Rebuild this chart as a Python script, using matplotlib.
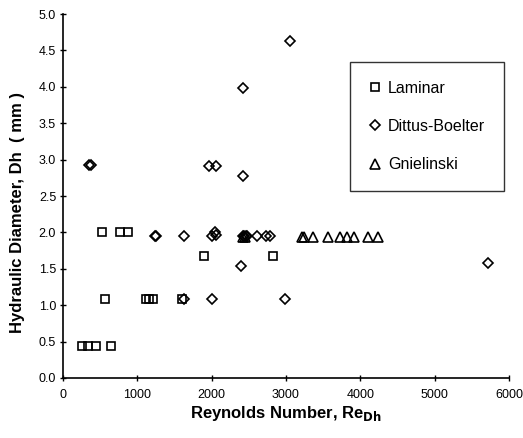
import matplotlib.pyplot as plt

plt.rcParams['font.family'] = ['Liberation Sans', 'DejaVu Sans']

# Laminar correlation points
laminar_re = [250, 340, 440, 640, 560, 1120, 1160, 1210, 1600, 530, 770, 880, 1900, 2820]
laminar_dh = [0.44, 0.44, 0.44, 0.44, 1.09, 1.09, 1.09, 1.09, 1.09, 2.01, 2.01, 2.01, 1.67, 1.67]

# Dittus-Boelter correlation points
dittus_re = [350, 370, 1970, 2060, 2420, 2420, 3050, 1240, 1250, 1630, 2010, 2040, 2060,
             2420, 2440, 2460, 2480, 2610, 2730, 2780, 2400, 1630, 2000, 2990, 5720]
dittus_dh = [2.92, 2.92, 2.91, 2.91, 3.98, 2.77, 4.63, 1.95, 1.95, 1.95, 1.95, 2.0, 1.97,
             1.95, 1.95, 1.95, 1.95, 1.95, 1.95, 1.95, 1.54, 1.09, 1.09, 1.09, 1.58]

# Gnielinski correlation points
gniel_re = [2420, 2450, 3220, 3240, 3370, 3570, 3730, 3820, 3910, 4100, 4240]
gniel_dh = [1.94, 1.94, 1.94, 1.94, 1.94, 1.94, 1.94, 1.94, 1.94, 1.94, 1.94]

fig = plt.figure(figsize=(5.23, 4.38), dpi=100)
ax = fig.add_axes([0.1205, 0.137, 0.8525, 0.831])

ms = 6
ax.plot(laminar_re, laminar_dh, 's', ms=ms, mfc='none', mec='black', mew=1.2, label='Laminar')
ax.plot(dittus_re, dittus_dh, 'D', ms=ms - 0.5, mfc='none', mec='black', mew=1.2, label='Dittus-Boelter')
ax.plot(gniel_re, gniel_dh, '^', ms=ms + 0.5, mfc='none', mec='black', mew=1.2, label='Gnielinski')

ax.set_xlim(0, 6000)
ax.set_ylim(0, 5.0)
ax.set_xticks(range(0, 6001, 1000))
ax.set_yticks([i * 0.5 for i in range(11)])
ax.set_yticklabels([f'{i * 0.5:.1f}' for i in range(11)])

for side in ('top', 'right'):
    ax.spines[side].set_visible(False)
for side in ('left', 'bottom'):
    ax.spines[side].set_linewidth(1.2)
ax.tick_params(direction='inout', length=4, width=1, labelsize=9, pad=3)
ax.tick_params(axis='x', pad=6)

ax.set_xlabel('Reynolds Number, Re$_{\\mathbf{Dh}}$', fontsize=12, fontweight='bold', labelpad=2)
ax.set_ylabel('Hydraulic Diameter, Dh  ( mm )', fontsize=12, fontweight='bold')
ax.yaxis.set_label_coords(-0.085, 0.455)

leg = ax.legend(loc='upper left', bbox_to_anchor=(0.643, 0.869), fontsize=11.5,
                frameon=True, fancybox=False, edgecolor='black', borderpad=1.2,
                labelspacing=1.45, handlelength=0.8, handletextpad=0.4, borderaxespad=0)
leg.get_frame().set_linewidth(1.0)

fig.savefig('out.png', dpi=100, facecolor='white')
